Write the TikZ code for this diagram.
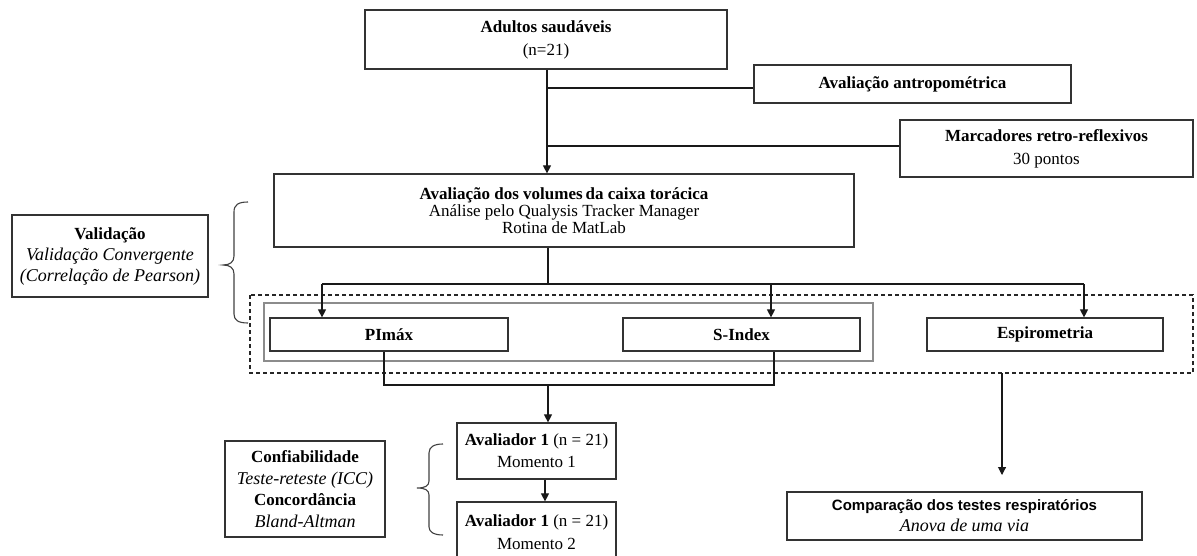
\documentclass[tikz,border=0pt]{standalone}
\usepackage{fontspec}
\setmainfont{Liberation Serif}
\newfontfamily\arialfont{Liberation Sans}
\usetikzlibrary{arrows.meta}
\newcommand\myfs[2]{\fontsize{#1}{#2}\selectfont}
\newcommand\itx[1]{{\fontsize{18}{21}\selectfont\itshape #1}}
\begin{document}
\begin{tikzpicture}[x=1pt,y=-1pt,
  box/.style={draw=black!80, line width=1.2pt, fill=white, align=center, inner sep=0pt},
  conn/.style={draw=black!90, line width=1.1pt},
  arr/.style={conn, -{Triangle[length=8pt,width=8pt]}},
  brace/.style={draw=black!75, line width=1.1pt},
]
\useasboundingbox (0,0) rectangle (1197,556);
\clip (0,0) rectangle (1197,556);

% outer dashed group and inner gray group
\draw[black!85, line width=1.1pt, dash pattern=on 4pt off 3pt] (250,295) rectangle (1193,373);
\draw[black!45, line width=1.3pt] (264,303) rectangle (873,361);

% boxes
\node[box, minimum width=362pt, minimum height=59pt, font=\myfs{17}{23}] (adultos) at (546,39.5)
  {\textbf{Adultos saudáveis}\\(n=21)};
\node[box, minimum width=317pt, minimum height=38pt, font=\myfs{17}{23}] (antrop) at (912.5,84)
  {\textbf{Avaliação antropométrica}};
\node[box, minimum width=293pt, minimum height=57pt, font=\myfs{17}{23}] (marc) at (1046.5,148.5)
  {\textbf{Marcadores retro-reflexivos}\\30 pontos};
\node[box, minimum width=580pt, minimum height=73pt, font=\myfs{17}{16.8}] (aval) at (564,210.5)
  {\textbf{Avaliação dos volumes\,da caixa torácica}\\Análise pelo Qualysis Tracker Manager\\Rotina de MatLab};
\node[box, minimum width=238pt, minimum height=33pt, font=\myfs{17}{22}] (pimax) at (389,334.5)
  {\textbf{PImáx}};
\node[box, minimum width=237pt, minimum height=33pt, font=\myfs{17}{22}] (sindex) at (741.5,334.5)
  {\textbf{S-Index}};
\node[box, minimum width=236pt, minimum height=33pt, font=\myfs{17}{22}] (espiro) at (1045,334.5)
  {\textbf{Espirometria}};
\node[box, minimum width=159pt, minimum height=56pt, font=\myfs{17}{22}] (av1) at (536.5,451)
  {\textbf{Avaliador 1} (n = 21)\\Momento 1};
\node[box, minimum width=159pt, minimum height=60pt, font=\myfs{17}{23}] (av2) at (536.5,532)
  {\textbf{Avaliador 1} (n = 21)\\Momento 2};
\node[box, minimum width=355pt, minimum height=48pt, font=\myfs{17}{21}] (comp) at (964.5,516)
  {{\arialfont\bfseries\fontsize{15}{21}\selectfont Comparação dos testes respiratórios}\\\itx{Anova de uma via}};
\node[box, minimum width=196pt, minimum height=82pt, font=\myfs{17}{21}] (valid) at (110,256)
  {\textbf{Validação}\\\itx{Validação Convergente}\\\itx{(Correlação de Pearson)}};
\node[box, minimum width=160pt, minimum height=96pt, font=\myfs{17}{21.7}] (conf) at (305,489)
  {\textbf{Confiabilidade}\\\itx{Teste-reteste (ICC)}\\\textbf{Concordância}\\\itx{Bland-Altman}};

% main trunk
\coordinate (j1) at (547,88);
\coordinate (j2) at (547,146);
\draw[arr] (adultos.south -| j1) -- (aval.north -| j1);
\draw[conn] (j1) -- (j1 -| antrop.west);
\draw[conn] (j2) -- (j2 -| marc.west);

% branch to the three tests
\coordinate (b0) at (548,284);
\coordinate (bL) at (322,284);
\coordinate (bM) at (771,284);
\coordinate (bR) at (1084,284);
\draw[conn] (aval.south -| b0) -- (b0);
\draw[conn] (bL) -- (bR);
\draw[arr] (bL) -- (bL |- pimax.north);
\draw[arr] (bM) -- (bM |- sindex.north);
\draw[arr] (bR) -- (bR |- espiro.north);

% merge of PImax and S-Index
\coordinate (mL) at (384,385);
\coordinate (mR) at (774,385);
\coordinate (mC) at (548,385);
\draw[conn] (pimax.south -| mL) -- (mL) -- (mR) -- (sindex.south -| mR);
\draw[arr] (mC) -- (av1.north -| mC);
\coordinate (a12) at (545,480);
\draw[arr] (av1.south -| a12) -- (av2.north -| a12);

% espirometria path
\coordinate (e0) at (1002,373);
\coordinate (e1) at (1002,475);
\draw[arr] (e0) -- (e1);

% braces
\draw[brace] (248,202) .. controls (238,202) and (234,205) .. (234,212) -- (234,256)
  .. controls (234,262) and (230,265) .. (223,265)
  .. controls (230,265) and (234,268) .. (234,274) -- (234,314)
  .. controls (234,320) and (238,323) .. (248,323);
\draw[brace] (443,444) .. controls (434,444) and (429,447) .. (429,453) -- (429,481)
  .. controls (429,486) and (425,488) .. (417,488)
  .. controls (425,488) and (429,490) .. (429,495) -- (429,527)
  .. controls (429,532) and (434,535) .. (443,535);
\end{tikzpicture}
\end{document}
